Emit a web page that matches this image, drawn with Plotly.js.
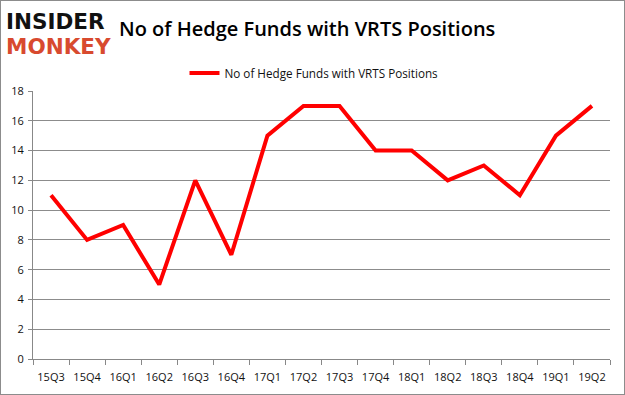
<!DOCTYPE html>
<html><head><meta charset="utf-8">
<script src="https://cdn.plot.ly/plotly-3.0.1.min.js"></script>
<style>
html,body{margin:0;padding:0;background:#fff;}
#frame{width:625px;height:395px;box-sizing:border-box;border:1px solid #8c8c8c;}
#chart{width:623px;height:393px;}
</style></head>
<body><div id="frame"><div id="chart"></div></div>
<script>
const quarters = ["15Q3","15Q4","16Q1","16Q2","16Q3","16Q4","17Q1","17Q2","17Q3","17Q4","18Q1","18Q2","18Q3","18Q4","19Q1","19Q2"];
const hedgeFunds = [11,8,9,5,12,7,15,17,17,14,14,12,13,11,15,17];
const yTicks = [0,2,4,6,8,10,12,14,16,18];
const seriesName = "No of Hedge Funds with VRTS Positions";
const chartTitle = "No of Hedge Funds with VRTS Positions";

const W = 623, H = 393;
const m = {l:32, r:14, t:90, b:35};
const pw = W - m.l - m.r, ph = H - m.t - m.b;
const px = x => (x - 1 - m.l) / pw;
const py = y => (H - m.b - (y - 1)) / ph;

const trace = {
  x: quarters, y: hedgeFunds, type: "scatter", mode: "lines",
  name: seriesName,
  line: {color: "#ff0000", width: 4}
};

const logoFont = {family: "DejaVu Sans, sans-serif", size: 21.5, weight: 700, stretch: "condensed"};

const layout = {
  width: W, height: H,
  margin: m,
  paper_bgcolor: "#fff", plot_bgcolor: "#fff",
  font: {family: "Open Sans, sans-serif", size: 11, color: "#111"},
  showlegend: true,
  legend: {orientation: "h", x: px(314), xanchor: "center", y: py(73), yanchor: "middle",
           font: {size: 11.7, color: "#111"}, bgcolor: "rgba(0,0,0,0)"},
  xaxis: {type: "category", range: [-0.5, quarters.length - 0.5],
          tickson: "boundaries", ticks: "outside", ticklen: 5, tickangle: 0,
          tickcolor: "#888", showline: true, linecolor: "#888", linewidth: 1,
          showgrid: false, zeroline: false, fixedrange: true, ticklabelstandoff: 8,
          tickfont: {size: 11, color: "#111"}},
  yaxis: {range: [0, 18], tickvals: yTicks, ticks: "outside", ticklen: 4,
          tickcolor: "#888", showline: true, linecolor: "#888", linewidth: 1,
          showgrid: true, gridcolor: "#8c8c8c", gridwidth: 1, zeroline: false,
          ticklabelstandoff: 2,
          tickfont: {size: 11, color: "#111"}},
  annotations: [
    {text: chartTitle, xref: "paper", yref: "paper", x: px(307), y: py(28),
     xanchor: "center", yanchor: "middle", showarrow: false,
     font: {family: "Open Sans, sans-serif", size: 20, color: "#000", weight: 600}},
    {text: "INSIDER", xref: "paper", yref: "paper", x: px(4), y: py(21),
     xanchor: "left", yanchor: "middle", showarrow: false,
     font: Object.assign({color: "#111"}, logoFont)},
    {text: "MONKEY", xref: "paper", yref: "paper", x: px(4), y: py(47),
     xanchor: "left", yanchor: "middle", showarrow: false,
     font: Object.assign({color: "#d84a2f"}, logoFont)}
  ]
};

Plotly.newPlot("chart", [trace], layout, {displayModeBar: false, staticPlot: true});
</script></body></html>
